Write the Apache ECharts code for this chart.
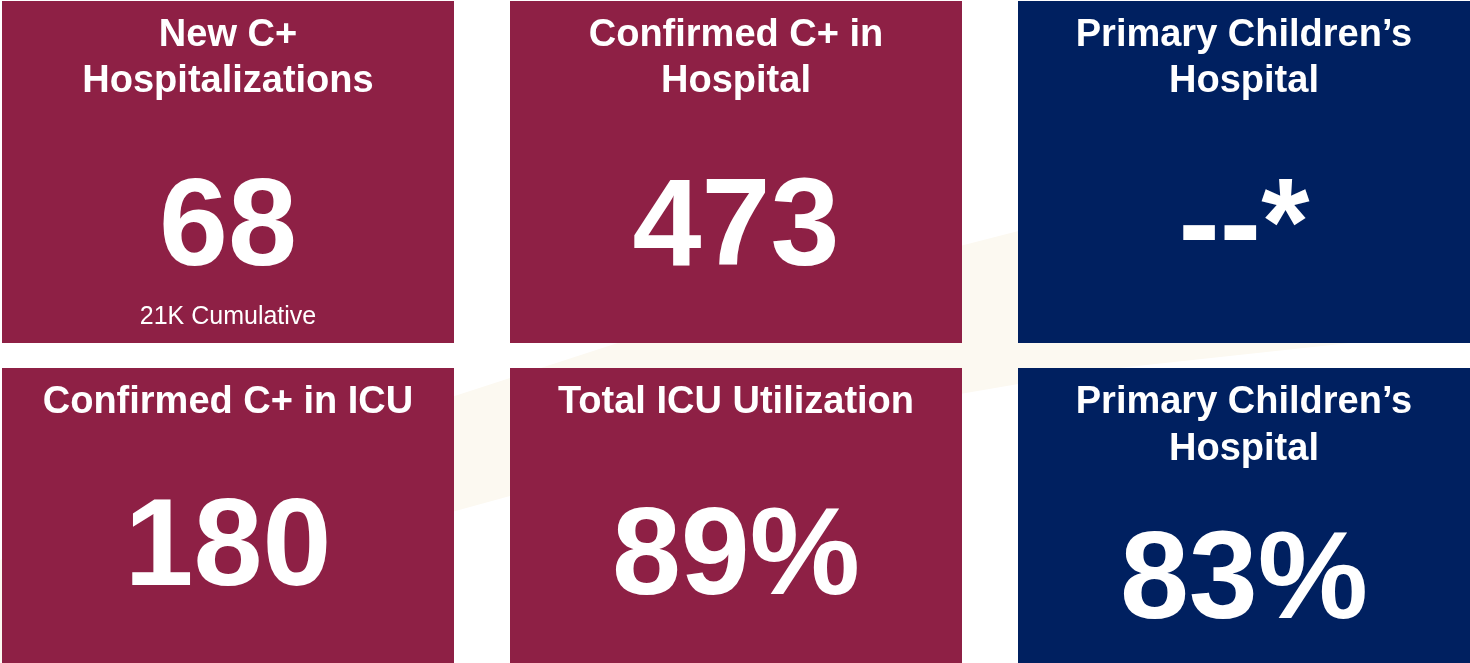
<!DOCTYPE html>
<html>
<head>
<meta charset="utf-8">
<script src="https://cdn.jsdelivr.net/npm/echarts@6/dist/echarts.min.js"></script>
<style>
html,body{margin:0;padding:0;background:#ffffff;}
#chart{width:1470px;height:663px;}
</style>
</head>
<body>
<div id="chart"></div>
<script>
// ---- data ----
const titles = [
  ["New C+", "Hospitalizations"],
  ["Confirmed C+ in", "Hospital"],
  ["Primary Children\u2019s", "Hospital"],
  ["Confirmed C+ in ICU"],
  ["Total ICU Utilization"],
  ["Primary Children\u2019s", "Hospital"]
];
const values = ["68", "473", "--*", "180", "89%", "83%"];
const subtitles = ["21K Cumulative", "", "", "", "", ""];
const tileColors = ["#8E2045", "#8E2045", "#002060", "#8E2045", "#8E2045", "#002060"];

// ---- layout ----
const cols = [[2, 454], [510, 962], [1018, 1470]];
const rows = [[1, 343], [368, 663]];
const titleY = [[36, 82], [403, 450]];
const valueY = [231, 231, 231, 551, 560, 584];
const FONT = '"Liberation Sans", Arial, sans-serif';

const chart = echarts.init(document.getElementById('chart'), null, {renderer: 'canvas'});
const elements = [];

// faint cream swoosh in the background
elements.push({
  type: 'polygon', z: 0,
  shape: { points: [[0, 560], [350, 430], [750, 300], [1100, 210], [1470, 140], [1470, 330], [1100, 370], [750, 430], [350, 540], [0, 663]] },
  style: { fill: '#fcf9f1' }
});

for (let i = 0; i < values.length; i++) {
  const r = Math.floor(i / 3), c = i % 3;
  const x0 = cols[c][0], x1 = cols[c][1];
  const y0 = rows[r][0], y1 = rows[r][1];
  const cx = (x0 + x1) / 2;
  elements.push({
    type: 'rect', z: 1,
    shape: { x: x0, y: y0, width: x1 - x0, height: y1 - y0 },
    style: { fill: tileColors[i] }
  });
  titles[i].forEach((t, k) => {
    elements.push({
      type: 'text', z: 2, x: cx, y: titleY[r][k],
      style: { text: t, fill: '#ffffff', font: 'bold 38px ' + FONT, align: 'center', verticalAlign: 'middle' }
    });
  });
  elements.push({
    type: 'text', z: 2, x: cx, y: valueY[i],
    style: { text: values[i], fill: '#ffffff', font: 'bold 124px ' + FONT, align: 'center', verticalAlign: 'middle' }
  });
  if (subtitles[i]) {
    elements.push({
      type: 'text', z: 2, x: cx, y: 317,
      style: { text: subtitles[i], fill: '#ffffff', font: '25px ' + FONT, align: 'center', verticalAlign: 'middle' }
    });
  }
}

chart.setOption({
  backgroundColor: '#ffffff',
  animation: false,
  graphic: { elements: elements }
});
</script>
</body>
</html>
